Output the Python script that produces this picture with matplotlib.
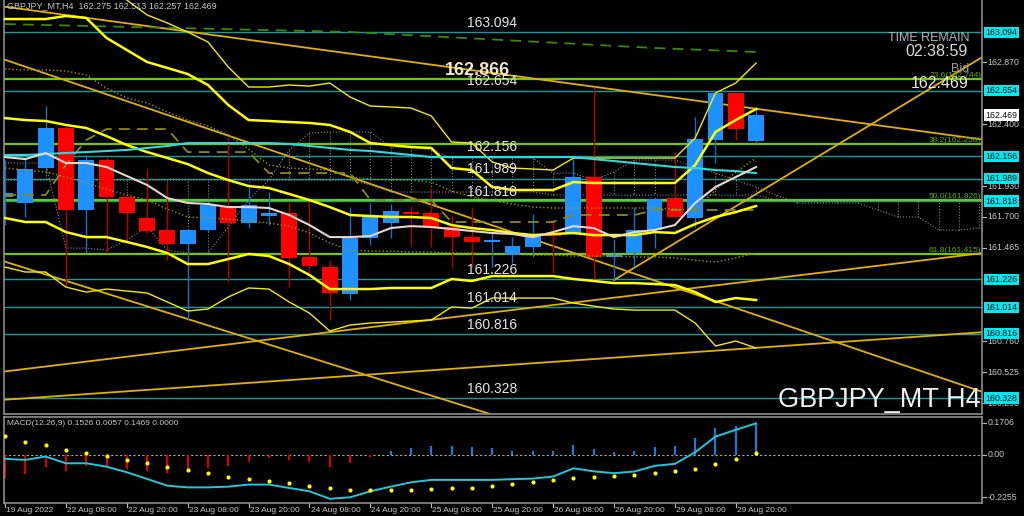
import matplotlib
matplotlib.use('Agg')
import matplotlib.pyplot as plt
import matplotlib.transforms as mtransforms

plt.rcParams['font.family'] = ['Liberation Sans', 'DejaVu Sans']

# GBPJPY H4 candles, bar 0 = 19 Aug 20:00 ... bar 37 = 29 Aug 20:00
opens = [161.849, 161.804, 162.068, 162.371, 161.751, 162.129, 161.849, 161.690, 161.599, 161.493,
         161.599, 161.773, 161.652, 161.705, 161.728, 161.395, 161.319, 161.115, 161.539, 161.652,
         161.735, 161.728, 161.622, 161.546, 161.509, 161.410, 161.471, 161.577, 161.569, 162.000,
         161.395, 161.425, 161.599, 161.841, 161.690, 162.280, 162.636, 162.275]
highs = [162.129, 162.144, 162.537, 162.390, 162.167, 162.151, 161.860, 162.061, 161.955, 161.599,
         161.804, 162.303, 161.917, 161.887, 161.811, 161.826, 161.372, 161.773, 161.804, 161.796,
         161.781, 161.917, 161.713, 161.773, 161.577, 161.546, 161.720, 161.682, 162.144, 162.681,
         161.531, 161.773, 161.849, 162.197, 162.454, 162.643, 162.643, 162.513]
lows = [161.637, 161.698, 162.053, 161.168, 161.425, 161.425, 161.524, 161.577, 161.372, 160.919,
        161.584, 161.206, 161.614, 161.637, 161.168, 161.274, 160.919, 161.070, 161.486, 161.539,
        161.478, 161.471, 161.312, 161.319, 161.319, 161.350, 161.395, 161.274, 161.569, 161.221,
        161.221, 161.319, 161.463, 161.690, 161.622, 162.106, 162.280, 162.257]
closes = [161.879, 162.061, 162.371, 161.751, 162.129, 161.849, 161.728, 161.592, 161.493, 161.599,
          161.788, 161.652, 161.788, 161.728, 161.388, 161.327, 161.123, 161.539, 161.705, 161.743,
          161.720, 161.622, 161.546, 161.509, 161.524, 161.478, 161.561, 161.554, 162.000, 161.395,
          161.410, 161.599, 161.834, 161.698, 162.288, 162.636, 162.363, 162.469]

# indicator lines (one value per bar)
upper_thin = [163.793, 163.717, 163.642, 163.566, 163.490, 163.415, 163.339, 163.226, 163.165, 163.097,
              163.021, 162.832, 162.681, 162.681, 162.696, 162.688, 162.711, 162.605, 162.537, 162.530,
              162.522, 162.462, 162.265, 162.257, 162.114, 162.068, 162.061, 162.053, 162.144, 162.144,
              162.144, 162.144, 162.144, 162.144, 162.295, 162.636, 162.711, 162.862]
upper_thick = [163.195, 163.195, 163.195, 163.218, 163.203, 163.052, 162.961, 162.870, 162.825, 162.779,
               162.696, 162.545, 162.431, 162.424, 162.416, 162.409, 162.394, 162.341, 162.257, 162.242,
               162.227, 162.220, 162.068, 162.053, 161.925, 161.902, 161.902, 161.902, 161.962, 161.955,
               161.955, 161.955, 161.955, 161.955, 162.091, 162.341, 162.431, 162.515]
middle_thick = [162.446, 162.431, 162.424, 162.394, 162.371, 162.310, 162.242, 162.189, 162.144, 162.098,
                162.030, 161.977, 161.932, 161.917, 161.872, 161.826, 161.773, 161.713, 161.705, 161.698,
                161.698, 161.690, 161.637, 161.614, 161.599, 161.577, 161.561, 161.569, 161.577, 161.561,
                161.561, 161.561, 161.584, 161.577, 161.645, 161.698, 161.735, 161.781]
lower_thick = [161.690, 161.660, 161.660, 161.584, 161.546, 161.546, 161.509, 161.471, 161.425, 161.342,
               161.342, 161.380, 161.418, 161.403, 161.342, 161.259, 161.153, 161.153, 161.153, 161.161,
               161.161, 161.161, 161.229, 161.214, 161.251, 161.251, 161.251, 161.251, 161.229, 161.214,
               161.198, 161.198, 161.191, 161.183, 161.130, 161.055, 161.085, 161.070]
lower_thin = [161.319, 161.282, 161.282, 161.168, 161.130, 161.153, 161.138, 161.123, 161.055, 160.987,
              161.002, 161.093, 161.161, 161.153, 161.055, 160.971, 160.835, 160.881, 160.896, 160.903,
              160.911, 160.919, 161.017, 161.009, 161.085, 161.085, 161.085, 161.085, 161.047, 161.024,
              161.002, 160.994, 160.994, 160.994, 160.896, 160.722, 160.760, 160.707]
white_ma = [162.151, 162.136, 162.182, 162.106, 162.106, 162.076, 162.008, 161.940, 161.841, 161.804,
            161.796, 161.773, 161.773, 161.766, 161.713, 161.637, 161.546, 161.546, 161.554, 161.614,
            161.629, 161.622, 161.607, 161.592, 161.577, 161.569, 161.546, 161.584, 161.629, 161.614,
            161.546, 161.584, 161.599, 161.637, 161.804, 161.925, 162.000, 162.076]
cyan_ma = [162.167, 162.167, 162.174, 162.182, 162.189, 162.197, 162.205, 162.220, 162.235, 162.257,
           162.257, 162.257, 162.257, 162.257, 162.250, 162.235, 162.220, 162.205, 162.197, 162.182,
           162.167, 162.151, 162.151, 162.151, 162.151, 162.151, 162.151, 162.151, 162.151, 162.136,
           162.121, 162.106, 162.091, 162.076, 162.068, 162.053, 162.045, 162.030]
kijun = [161.864, 161.864, 161.864, 162.091, 162.280, 162.363, 162.363, 162.363, 162.363, 162.189,
         162.189, 162.189, 162.189, 162.030, 162.030, 162.030, 162.030, 162.030, 161.826, 161.826,
         161.826, 161.826, 161.660, 161.660, 161.660, 161.660, 161.660, 161.660, 161.713, 161.713,
         161.713, 161.713, 161.751, 161.751, 161.751, 161.751, 161.751, 161.751]
dot_upper = [162.817, 162.810, 162.810, 162.802, 162.772, 162.673, 162.598, 162.560, 162.492, 162.431,
             162.386, 162.318, 162.212, 162.091, 162.068, 162.061, 162.053, 162.000, 161.985, 161.977,
             161.977, 161.962, 161.894, 161.849, 161.826, 161.796, 161.773, 161.766, 161.766, 161.766,
             161.766, 161.766, 161.766, 161.758, 161.751, 161.902, 162.038, 162.144]
dot_lower = [162.068, 162.053, 162.038, 162.000, 161.955, 161.909, 161.864, 161.826, 161.758, 161.698,
             161.690, 161.682, 161.667, 161.652, 161.629, 161.577, 161.501, 161.448, 161.440, 161.440,
             161.433, 161.433, 161.425, 161.425, 161.418, 161.418, 161.410, 161.410, 161.403, 161.403,
             161.403, 161.395, 161.395, 161.388, 161.372, 161.357, 161.388, 161.425]
# cloud spans (bars 0..48, shifted into the future)
span_a = [162.106, 162.106, 162.106, 161.463, 161.463, 161.448, 161.524, 161.622, 161.448, 161.425,
          161.425, 161.622, 161.826, 161.977, 162.204, 162.333, 162.341, 162.341, 162.341, 162.227,
          162.227, 162.204, 162.144, 162.144, 162.144, 162.144, 162.144, 162.030, 162.030, 161.977,
          162.038, 162.129, 162.129, 162.129, 162.076, 162.030, 161.977, 161.925, 161.864, 161.804,
          161.804, 161.804, 161.804, 161.751, 161.698, 161.698, 161.599, 161.599, 161.614]
span_b = [161.977] * 18 + [161.940] + [161.887] * 8 + [161.864] * 11 + [161.826] * 11
green_dash_bars = [0, 17, 32, 37]
green_dash_vals = [163.157, 163.097, 162.976, 162.946]

# chart objects
levels = [163.094, 162.654, 162.156, 161.989, 161.818, 161.226, 161.014, 160.816, 160.328]
fib_pct = ['23.6', '38.2', '50.0', '61.8']
fib_vals = [162.744, 162.250, 161.826, 161.415]
# trend lines: (bar1, price1, bar2, price2)
trend_lines = [(0, 163.288, 48, 162.287),
               (0, 162.887, 48, 160.383),
               (0, 161.360, 24, 160.203),
               (0, 160.530, 48, 161.422),
               (0, 160.316, 48, 160.825)]
trend_ray = (30, 161.221, 48, 162.894)

price_ticks = [162.870, 162.400, 161.930, 161.700, 161.465, 160.760, 160.525, 160.290]
bid = 162.469

# MACD panel
macd_hist = [-0.123, -0.103, -0.064, -0.086, -0.059, -0.069, -0.075, -0.086, -0.096, -0.086,
             -0.071, -0.059, -0.036, -0.016, -0.030, -0.039, -0.066, -0.045, -0.009, 0.020,
             0.037, 0.050, 0.045, 0.041, 0.036, 0.020, 0.020, 0.020, 0.055, 0.032,
             0.018, 0.020, 0.041, 0.045, 0.091, 0.145, 0.157, 0.170]
macd_line = [-0.021, -0.027, -0.009, -0.045, -0.045, -0.063, -0.093, -0.129, -0.165, -0.174,
             -0.174, -0.170, -0.159, -0.159, -0.177, -0.195, -0.235, -0.227, -0.195, -0.170,
             -0.147, -0.134, -0.134, -0.134, -0.134, -0.130, -0.127, -0.116, -0.072, -0.088,
             -0.098, -0.089, -0.059, -0.048, 0.014, 0.098, 0.134, 0.169]
macd_dots = [0.103, 0.071, 0.053, 0.028, 0.011, -0.007, -0.027, -0.045, -0.064, -0.082,
             -0.098, -0.116, -0.128, -0.139, -0.152, -0.168, -0.179, -0.186, -0.186, -0.186,
             -0.186, -0.182, -0.179, -0.175, -0.166, -0.155, -0.147, -0.134, -0.125, -0.120,
             -0.115, -0.107, -0.098, -0.089, -0.075, -0.048, -0.021, 0.009]
macd_ticks = [0.1706, 0.0, -0.2255]
macd_tick_labels = ['0.1706', '0.00', '-0.2255']

time_bars = [0, 3, 6, 9, 12, 15, 18, 21, 24, 27, 30, 33, 36]
time_labels = ['19 Aug 2022', '22 Aug 08:00', '22 Aug 20:00', '23 Aug 08:00', '23 Aug 20:00',
               '24 Aug 08:00', '24 Aug 20:00', '25 Aug 08:00', '25 Aug 20:00', '26 Aug 08:00',
               '26 Aug 20:00', '29 Aug 08:00', '29 Aug 20:00']

W, H = 1024, 516
fig = plt.figure(figsize=(W / 100, H / 100), dpi=100, facecolor='black')
ax = fig.add_axes([4 / W, 1 - 414 / H, 978 / W, 414 / H])
ax2 = fig.add_axes([4 / W, 13 / H, 978 / W, 86 / H])
for a in (ax, ax2):
    a.set_facecolor('black')
    a.set_xlim(-0.05, 48.13)
    a.set_xticks([])
    a.set_yticks([])
    for s in a.spines.values():
        s.set_color('#8c8c8c')
        s.set_linewidth(1.2)
ax.spines['top'].set_visible(False)
ax.set_ylim(160.208, 163.339)
ax2.set_ylim(-0.2576, 0.2027)

n = len(closes)
bars = list(range(n))
cloud_bars = list(range(len(span_a)))

# --- objects (background) ---
for lv in levels:
    ax.axhline(lv, color='#0e9c9c', lw=1.0, zorder=1)
    ax.annotate(f'{lv:.3f}', xy=(24.0, lv), xytext=(0, 1.5), textcoords='offset points',
                ha='center', va='bottom', color='#e6e6e6', fontsize=10, zorder=6)
for pct, lv in zip(fib_pct, fib_vals):
    ax.axhline(lv, color='#74c800', lw=1.6, zorder=1.2)
    ax.text(48.1, lv, f'{pct}({lv:.3f})', ha='right', va='bottom', color='#5fb000',
            fontsize=6, zorder=6)
for b1, p1, b2, p2 in trend_lines:
    ax.axline((b1, p1), (b2, p2), color='#e2b000', lw=1.3, zorder=1.5)
rb1, rp1, rb2, rp2 = trend_ray
slope = (rp2 - rp1) / (rb2 - rb1)
ax.plot([rb1, 60], [rp1, rp1 + slope * (60 - rb1)], color='#e2b000', lw=1.3, zorder=1.5)

ax.plot(green_dash_bars, green_dash_vals, color='#3a8a00', lw=1.3, ls=(0, (6, 4)), zorder=1.6)

# cloud (dotted hatch)
ax.plot(cloud_bars, span_a, color='#8a8a8a', lw=0.8, ls=':', zorder=2)
ax.plot(cloud_bars, span_b, color='#8a8a8a', lw=0.8, ls=':', zorder=2)
ax.vlines(cloud_bars, span_a, span_b, color='#8a8a8a', lw=0.8, linestyles=':', zorder=2)

# --- candles ---
for i in bars:
    up = closes[i] >= opens[i]
    body_c = '#1e90ff' if up else '#ff0000'
    wick_c = '#1a6ec8' if up else '#b00000'
    ax.vlines(i, lows[i], highs[i], color=wick_c, lw=1.0, zorder=3)
    lo, hi = min(opens[i], closes[i]), max(opens[i], closes[i])
    ax.bar(i, max(hi - lo, 0.012), bottom=lo, width=0.78, color=body_c, zorder=3.2)

# --- indicators ---
ax.plot(bars, upper_thin, color='#f2ee00', lw=1.0, zorder=4)
ax.plot(bars, lower_thin, color='#f2ee00', lw=1.0, zorder=4)
ax.plot(bars, upper_thick, color='#ffff00', lw=1.8, zorder=4)
ax.plot(bars, middle_thick, color='#ffff00', lw=1.8, zorder=4)
ax.plot(bars, lower_thick, color='#ffff00', lw=1.8, zorder=4)
ax.plot(bars, kijun, color='#8c8a10', lw=1.3, ls=(0, (6, 4)), zorder=3.5)
ax.plot(bars, dot_upper, color='#9a9410', lw=1.0, ls=':', zorder=3.5)
ax.plot(bars, dot_lower, color='#9a9410', lw=1.0, ls=':', zorder=3.5)
ax.plot(bars, cyan_ma, color='#30d8e0', lw=1.5, zorder=4)
ax.plot(bars, white_ma, color='#e8d6cc', lw=1.5, zorder=4)

# --- bold level label ---
ax.text(23.25, 162.744, '162.866', ha='center', va='bottom', color='#f4e4c8',
        fontsize=13, fontweight='bold', zorder=6)

# --- right price scale ---
ytr = ax.get_yaxis_transform()
for p in price_ticks:
    ax.plot([1.0, 1.004], [p, p], color='#bcbcbc', lw=0.8, transform=ytr, clip_on=False)
    ax.text(1.0055, p, f'{p:.3f}', transform=ytr, ha='left', va='center', color='#c8c8c8',
            fontsize=6.3, clip_on=False)
for lv in levels:
    ax.text(1.0035, lv, f'{lv:.3f}', transform=ytr, ha='left', va='center', color='#101010',
            fontsize=6.3, clip_on=False, zorder=7,
            bbox=dict(facecolor='#00e8f0', edgecolor='none', pad=0.9))
ax.text(1.0035, bid, f'{bid:.3f}', transform=ytr, ha='left', va='center', color='#101010',
        fontsize=6.3, clip_on=False, zorder=7,
        bbox=dict(facecolor='white', edgecolor='none', pad=0.9))

# --- MACD ---
hist_c = ['#1e78d8' if v >= 0 else '#d40000' for v in macd_hist]
ax2.vlines(bars, 0, macd_hist, colors=hist_c, lw=1.6, zorder=2)
ax2.axhline(0, color='#a8a8a8', lw=0.8, ls=(0, (2, 2)), zorder=1)
ax2.plot(bars, macd_line, color='#20c8dc', lw=1.4, zorder=3)
ax2.scatter(bars, macd_dots, s=9, color='#ffff00', zorder=4, linewidths=0)
ytr2 = ax2.get_yaxis_transform()
for v, lab in zip(macd_ticks, macd_tick_labels):
    ax2.plot([1.0, 1.004], [v, v], color='#bcbcbc', lw=0.8, transform=ytr2, clip_on=False)
    ax2.text(1.0055, v, lab, transform=ytr2, ha='left', va='center', color='#c8c8c8',
             fontsize=6.3, clip_on=False)
ax2.text(0.003, 0.93, 'MACD(12,26,9) 0.1526 0.0057 0.1469 0.0000', transform=ax2.transAxes,
         ha='left', va='center', color='#c8c8c8', fontsize=6)

# time axis
xtr = mtransforms.blended_transform_factory(ax2.transData, ax2.transAxes)
for b, lab in zip(time_bars, time_labels):
    ax2.plot([b, b], [0, -0.05], color='#bcbcbc', lw=0.8, transform=xtr, clip_on=False)
    ax2.text(b + 0.05, -0.085, lab, transform=xtr, ha='left', va='center', color='#c8c8c8',
             fontsize=6, clip_on=False)

# --- overlay texts ---
fig.text(7 / W, 1 - 6 / H, 'GBPJPY_MT,H4  162.275 162.513 162.257 162.469', ha='left',
         va='center', color='#c8c8c8', fontsize=6.5)
fig.text(969 / W, 1 - 38 / H, 'TIME REMAIN', ha='right', va='center', color='#b4b4b4', fontsize=9)
fig.text(968 / W, 1 - 51 / H, '02:38:59', ha='right', va='center', color='#d8d8d8', fontsize=11.5)
fig.text(969 / W, 1 - 69 / H, 'Bid', ha='right', va='center', color='#9a9a9a', fontsize=9)
fig.text(968 / W, 1 - 83 / H, '162.469', ha='right', va='center', color='#e4e4e4', fontsize=11.5)
fig.text(981 / W, 1 - 400 / H, 'GBPJPY_MT H4', ha='right', va='center', color='#f0f0f0',
         fontsize=19.5)

fig.savefig('out.png', dpi=100, facecolor='black')
